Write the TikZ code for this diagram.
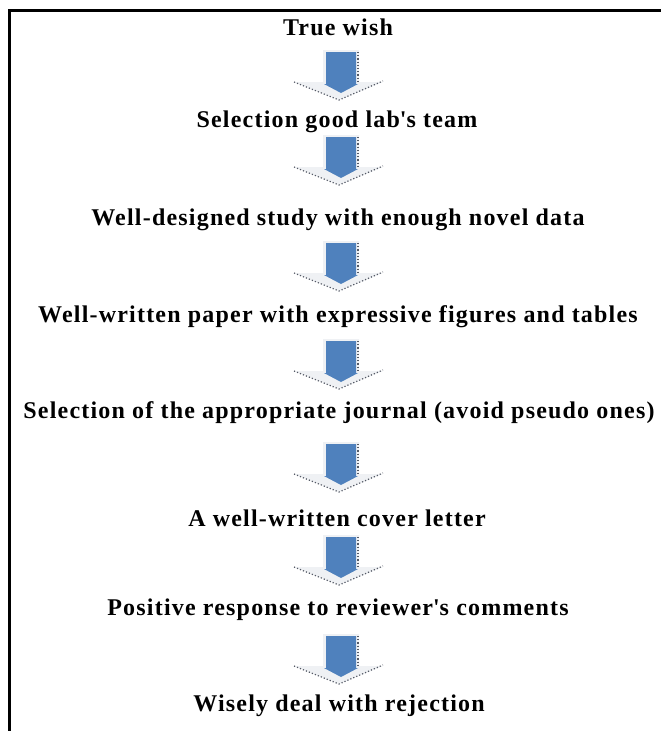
\documentclass[tikz,border=0pt]{standalone}
\usepackage{fontspec}
\setmainfont[LetterSpace=5]{Liberation Serif}
\definecolor{arrowblue}{HTML}{4F81BD}
\definecolor{arrowgray}{HTML}{EFF1F4}
\definecolor{dotcol}{HTML}{555A66}
\tikzset{
  steptext/.style={font=\bfseries\fontsize{24}{28}\selectfont, inner sep=0pt, anchor=center},
  blockarrow/.pic={
    \fill[arrowgray] (-16,-2) -- (20,-2) -- (20,30) -- (44,30) -- (0,48) -- (-45,30) -- (-16,30) -- cycle;
    \draw[dotted, dotcol, line width=1.2pt] (19,0) -- (19,30);
    \draw[dotted, dotcol, line width=1.2pt] (-45,30) -- (0,48) -- (44,29);
    \fill[arrowblue] (-13,0) -- (17,0) -- (17,32) -- (19,32) -- (2,41) -- (-15,32) -- (-13,32) -- cycle;
  }
}
\begin{document}
\begin{tikzpicture}[x=1pt,y=-1pt]
\useasboundingbox (0,0) rectangle (661,731);
\draw[line width=3pt] (9,731) -- (9,10) -- (661,10);
\node[steptext] (t1) at (338,27) {True wish};
\node[steptext] (t2) at (337,122) {Selection good lab\textquotesingle s team};
\node[steptext] (t3) at (338,220) {Well-designed study with enough novel data};
\node[steptext] (t4) at (338,317) {Well-written paper with expressive figures and tables};
\node[steptext] (t5) at (339,413) {Selection of the appropriate journal (avoid pseudo ones)};
\node[steptext] (t6) at (337,518) {A well-written cover letter};
\node[steptext] (t7) at (338,610) {Positive response to reviewer\textquotesingle s comments};
\node[steptext] (t8) at (339,706) {Wisely deal with rejection};
\pic at (339,52) {blockarrow};
\pic at (339,137) {blockarrow};
\pic at (339,243) {blockarrow};
\pic at (339,341) {blockarrow};
\pic at (339,444) {blockarrow};
\pic at (339,537) {blockarrow};
\pic at (339,636) {blockarrow};
\end{tikzpicture}
\end{document}
